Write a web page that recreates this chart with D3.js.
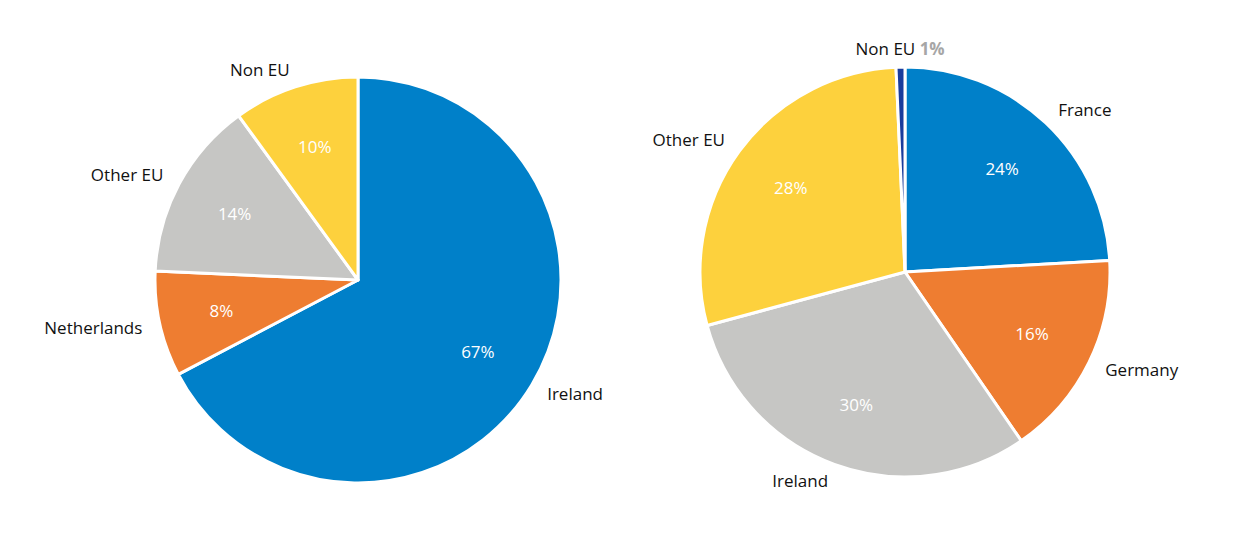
<!DOCTYPE html>
<html lang="en">
<head>
    <meta charset="UTF-8">
    <title>Share by destination</title>
    <script src="https://d3js.org/d3.v7.min.js"></script>
    <style>
        body { margin: 0; background: #fff; }
        svg text { font-family: "Open Sans", "Noto Sans", sans-serif; font-size: 17px; }
    </style>
</head>
<body>
    <div id="chart"></div>

    <script>
    // Left pie
    const leftNames = ['Ireland', 'Netherlands', 'Other EU', 'Non EU'];
    const leftValues = [67.3, 8.4, 14.3, 10.0];
    const leftColors = ['#0080C9', '#EE7D31', '#C6C6C4', '#FDD13D'];

    // Right pie
    const rightNames = ['France', 'Germany', 'Ireland', 'Other EU', 'Non EU'];
    const rightValues = [24.1, 16.3, 30.4, 28.5, 0.7];
    const rightColors = ['#0080C9', '#EE7D31', '#C6C6C4', '#FDD13D', '#1A3C9C'];

    const W = 1246, H = 540;
    const svg = d3.select('#chart').append('svg')
        .attr('width', W)
        .attr('height', H);

    function drawPie(names, values, colors, cx, cy, r, smallSlice) {
        const data = names.map((n, i) => ({ name: n, value: values[i], color: colors[i] }));
        const total = d3.sum(values);

        const pie = d3.pie().sort(null).value(d => d.value);
        const arc = d3.arc().innerRadius(0).outerRadius(r);
        const inner = d3.arc().innerRadius(r * 0.69).outerRadius(r * 0.69);
        const outer = d3.arc().innerRadius(r + 18).outerRadius(r + 18);

        const g = svg.append('g').attr('transform', `translate(${cx},${cy})`);
        const arcs = g.selectAll('g.slice').data(pie(data)).enter().append('g').attr('class', 'slice');

        arcs.append('path')
            .attr('d', arc)
            .attr('fill', d => d.data.color)
            .attr('stroke', 'white')
            .attr('stroke-linejoin', 'round')
            .style('stroke-width', '3px');

        // percentages inside
        arcs.filter(d => d.data.value / total > smallSlice)
            .append('text')
            .attr('transform', d => `translate(${inner.centroid(d)})`)
            .attr('text-anchor', 'middle')
            .attr('dy', '0.35em')
            .attr('fill', 'white')
            .text(d => Math.round(d.data.value / total * 100) + '%');

        // category labels outside
        const lab = arcs.append('text')
            .attr('transform', d => `translate(${outer.centroid(d)})`)
            .attr('dy', '0.35em')
            .attr('fill', '#111')
            .attr('text-anchor', d => {
                const s = Math.sin((d.startAngle + d.endAngle) / 2);
                return Math.abs(s) < 0.15 ? 'middle' : (s > 0 ? 'start' : 'end');
            });
        lab.append('tspan').text(d => d.data.name);
        lab.filter(d => d.data.value / total <= smallSlice)
            .append('tspan')
            .attr('fill', '#A6A6A6')
            .attr('font-weight', 'bold')
            .text(d => ' ' + Math.round(d.data.value / total * 100) + '%');
    }

    drawPie(leftNames, leftValues, leftColors, 358, 280, 203, 0.03);
    drawPie(rightNames, rightValues, rightColors, 905, 272, 205, 0.03);
    </script>
</body>
</html>
